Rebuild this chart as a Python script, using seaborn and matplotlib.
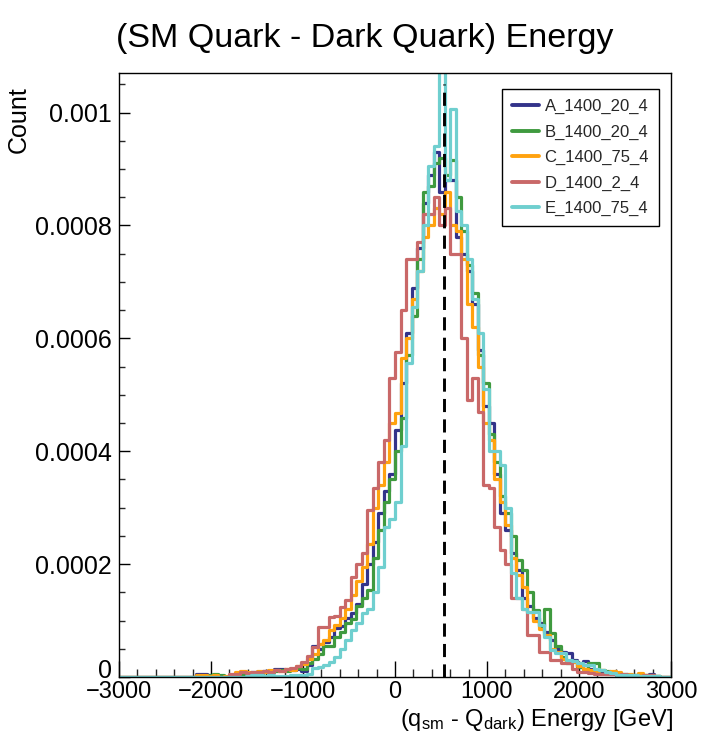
import numpy as np
import pandas as pd
import matplotlib
matplotlib.use("Agg")
import matplotlib.pyplot as plt
import matplotlib.transforms as mtransforms
import seaborn as sns
from matplotlib.lines import Line2D
from matplotlib.ticker import MultipleLocator, FixedLocator, FixedFormatter

# ---------------- data (values in units of 1e-5, 100 bins of 60 GeV from -3000 to 3000) -------------
BIN_EDGES = np.linspace(-3000, 3000, 101).tolist()
UNIT = 1e-5

SAMPLES = ["A_1400_20_4", "B_1400_20_4", "C_1400_75_4", "D_1400_2_4", "E_1400_75_4"]
COLORS = ["#33338a", "#3f9a3f", "#ffa20f", "#c96868", "#6fcfcf"]

A_VALUES = [0, 0, 0, 0, 0, 0, 0, 0, 0, 0, 0, 0, 0, 0,
            0.5, 0.6, 0.3, 0.2, 0.2, 0, 0.3, 0.3, 0.5, 0.6,
            0.9, 0.9, 1.1, 1.0, 1.5, 1.4, 1.2, 1.3, 1.5, 1.0,
            2.2, 5.5, 5.0, 6.2, 7.0, 8.6, 9.0, 10.5, 11.3, 13.0,
            16.5, 20.0, 24, 29, 33, 36, 43.7, 52, 61, 69,
            76, 84, 89, 93, 86, 88, 88, 78, 75, 72,
            66, 58, 48, 45, 36, 29, 26, 22, 19, 14,
            12.5, 10.5, 9.5, 8, 6.5, 5.0, 4.5, 4.2, 3, 2.0,
            2.8, 1.5, 1.2, 0.9, 0.8, 0.5, 0.7, 0.4, 0.3, 0.2,
            0.4, 0.2, 0.6, 0.1, 0, 0]

B_VALUES = [0, 0, 0, 0, 0, 0, 0, 0, 0, 0, 0, 0, 0, 0,
            0, 0.2, 0.4, 0.5, 0.3, 0, 0, 0.2, 0.3, 0.5,
            0.4, 0.6, 0.8, 0.8, 1.0, 1.3, 1.0, 1.4, 1.6, 1.4,
            2.5, 3.2, 4.0, 5.5, 5.5, 7.0, 8.0, 9.5, 10.2, 12.5,
            14.0, 15.5, 21, 26, 31, 35, 40, 45.8, 57, 64,
            74, 86, 87, 91, 92, 89, 91.5, 85, 79, 73,
            68, 57, 52, 43, 38, 32, 29, 25, 20.7, 19,
            15, 11.8, 9, 12, 7.8, 5.5, 3.5, 2.5, 2.8, 1.8,
            1.4, 2.4, 2.4, 1.3, 1.0, 0.9, 0.4, 0.5, 0.3, 0.4,
            0.2, 0.3, 0.2, 0.1, 0, 0]

C_VALUES = [0, 0, 0, 0, 0, 0, 0, 0, 0, 0, 0, 0, 0, 0,
            0.3, 0.4, 0.2, 0.3, 0, 0.2, 0.4, 0.9, 1.0, 0.8,
            0.6, 1.0, 0.9, 1.3, 1.2, 1.0, 1.5, 1.3, 2.0, 2.3,
            3.2, 4.0, 5.8, 6.5, 8.3, 9.2, 10.5, 12.0, 14.5, 17.0,
            19.5, 23.5, 30, 34, 38, 45, 46.7, 56.5, 60, 67,
            72, 78, 80, 83, 82, 86, 80, 79, 74, 66,
            62, 55, 45, 42, 35, 31, 27, 21, 18, 16,
            11.5, 10, 8.5, 7.4, 5, 4.5, 3.2, 2.8, 2.6, 2.0,
            1.5, 1.2, 1.0, 1.2, 0.6, 1.0, 0.8, 0.4, 0.6, 0.3,
            0.7, 0.3, 0.4, 0.2, 0, 0]

D_VALUES = [0, 0, 0, 0, 0, 0, 0, 0, 0, 0, 0, 0, 0, 0,
            0, 0, 0, 0, 0, 0, 0.6, 0.5, 0.8, 0.7,
            0.9, 0.8, 1.0, 0.9, 1.2, 1.0, 1.4, 1.6, 2.0, 2.6,
            3.8, 5.3, 8.8, 8.8, 10.6, 10.8, 12.4, 13.6, 17.7, 20,
            22, 29.6, 33.5, 38, 42, 53, 57.5, 65, 74, 74,
            77, 82, 82, 85, 80, 83, 75, 75, 60, 49,
            53, 47, 34, 33.5, 26.5, 22.5, 20, 14, 14, 12,
            7.4, 7.4, 4.4, 4.4, 3, 3, 2.4, 2.4, 1.5, 0.9,
            0.9, 0.7, 0.6, 0.5, 0.5, 0.6, 0.4, 0.5, 0.3, 0.3,
            0.2, 0.3, 0.3, 0, 0, 0]

E_VALUES = [0, 0, 0, 0, 0, 0, 0, 0, 0, 0, 0, 0, 0, 0,
            0, 0, 0, 0, 0, 0, 0, 0, 0, 0.2,
            0.3, 0.4, 0.2, 0.3, 0.2, 0.2, 0.1, 0.3, 0.3, 0.4,
            0.5, 1.6, 1.8, 2.2, 2.6, 3.5, 5, 6.5, 8.3, 9.6,
            11.3, 12, 15, 19.5, 26.5, 28, 31, 41, 55.6, 65.5,
            72, 80, 90.6, 94, 108, 88, 100.7, 82.6, 80, 74,
            67, 61, 51, 40, 40, 37.5, 30, 18.4, 14, 12,
            11.5, 11.5, 9.2, 7, 4.8, 4.2, 4.2, 3, 2.8, 2.5,
            2.1, 2.1, 1.5, 1.2, 0.9, 0.7, 0.4, 0.3, 0.3, 0.3,
            0.2, 0.2, 0.2, 0.1, 0, 0]

SERIES = [A_VALUES, B_VALUES, C_VALUES, D_VALUES, E_VALUES]

MEAN_LINE_X = 530
MEAN_LINE_TOP = 0.00105

TITLE = "(SM Quark - Dark Quark) Energy"
XLABEL = r"(q$_{\mathregular{sm}}$ - Q$_{\mathregular{dark}}$) Energy [GeV]"
YLABEL = "Count"
XTICKS = [-3000, -2000, -1000, 0, 1000, 2000, 3000]
YTICKS = [0, 0.0002, 0.0004, 0.0006, 0.0008, 0.001]
YTICK_LABELS = ["0", "0.0002", "0.0004", "0.0006", "0.0008", "0.001"]
XLIM = (-3000, 3000)
YLIM = (0, 0.00107)

# ---------------- build table ----------------
edges_arr = np.asarray(BIN_EDGES)
centers = 0.5 * (edges_arr[:-1] + edges_arr[1:])
frames = []
for name, vals in zip(SAMPLES, SERIES):
    frames.append(pd.DataFrame({"energy": centers,
                                "count": np.asarray(vals, dtype=float) * UNIT,
                                "sample": name}))
df = pd.concat(frames, ignore_index=True)

# ---------------- style ----------------
sns.set_theme(style="ticks")
plt.rcParams["font.family"] = ["Liberation Sans", "DejaVu Sans"]
plt.rcParams["mathtext.fontset"] = "custom"
plt.rcParams["mathtext.rm"] = "Liberation Sans"
plt.rcParams["mathtext.it"] = "Liberation Sans:italic"

W, H = 708, 737
fig = plt.figure(figsize=(W / 100, H / 100), dpi=100)
fig.patch.set_facecolor("white")
ax = fig.add_axes([119 / W, 1 - 677 / H, (671 - 119) / W, (677 - 73) / H])
ax.set_facecolor("white")

for name, color in zip(SAMPLES, COLORS):
    sub = df[df["sample"] == name]
    sns.histplot(data=sub, x="energy", weights="count", bins=BIN_EDGES,
                 element="step", fill=False, color=color, linewidth=2.3, ax=ax)

ax.plot([MEAN_LINE_X, MEAN_LINE_X], [0, MEAN_LINE_TOP], color="black",
        linestyle=(0, (4.5, 2.5)), linewidth=2.1, zorder=5)

ax.set_xlim(*XLIM)
ax.set_ylim(*YLIM)
ax.set_xlabel("")
ax.set_ylabel("")

ax.xaxis.set_major_locator(FixedLocator(XTICKS))
ax.xaxis.set_minor_locator(MultipleLocator(200))
ax.yaxis.set_major_locator(FixedLocator(YTICKS))
ax.yaxis.set_major_formatter(FixedFormatter(YTICK_LABELS))
ax.yaxis.set_minor_locator(MultipleLocator(0.00005))

ax.tick_params(axis="x", which="major", direction="in", length=11.5, width=1,
               labelsize=17, pad=3, colors="black", top=False)
ax.tick_params(axis="x", which="minor", direction="in", length=5.8, width=1, top=False)
ax.tick_params(axis="y", which="major", direction="in", length=8, width=1,
               labelsize=18, pad=5, colors="black", right=False)
ax.tick_params(axis="y", which="minor", direction="in", length=4.3, width=1, right=False)

for sp in ax.spines.values():
    sp.set_visible(True)
    sp.set_color("black")
    sp.set_linewidth(1.0)

handles = [Line2D([0], [0], color=c, lw=2.8) for c in COLORS]
leg = ax.legend(handles, SAMPLES, loc="upper right",
                bbox_to_anchor=(659 / W, 1 - 89 / H), bbox_transform=fig.transFigure,
                borderaxespad=0.0,
                frameon=True, fancybox=False, edgecolor="black", framealpha=1,
                fontsize=12, handlelength=1.6, handletextpad=0.35,
                labelspacing=0.62, borderpad=0.6)
leg.get_frame().set_linewidth(1.0)

fig.text(365 / W, 1 - 38 / H, TITLE, ha="center", va="center", fontsize=24.5, color="black")
fig.text(19 / W, 1 - 86 / H, YLABEL, rotation=90, ha="center", va="top", fontsize=18, color="black")
fig.text(673 / W, 1 - 733 / H, XLABEL, ha="right", va="bottom", fontsize=17, color="black")

# lift the "0" y tick label a little so it does not collide with "-3000"
fig.canvas.draw()
zero_tick = ax.yaxis.get_major_ticks()[0]
zero_tick.label1.set_transform(zero_tick.label1.get_transform()
                               + mtransforms.ScaledTranslation(0, 0.09, fig.dpi_scale_trans))

fig.savefig("out.png", dpi=100, facecolor="white")
